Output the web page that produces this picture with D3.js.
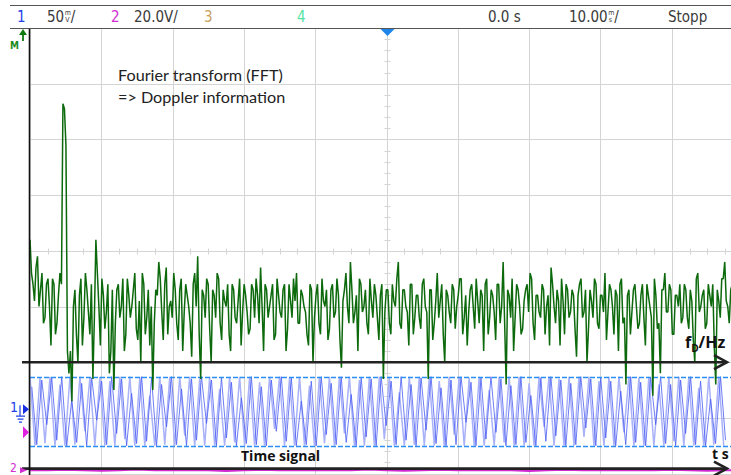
<!DOCTYPE html>
<html><head><meta charset="utf-8">
<script src="https://cdn.jsdelivr.net/npm/d3@7"></script>
<style>
html,body{margin:0;padding:0;background:#fff;overflow:hidden}
svg{display:block}
.hdr{font-family:"DejaVu Sans Condensed","DejaVu Sans",sans-serif;font-size:15px;fill:#3a3a3a}
.tiny{font-family:"DejaVu Sans Condensed","DejaVu Sans",sans-serif;font-size:7px;fill:#3a3a3a}
.note{font-family:Lato,"Open Sans",sans-serif;font-size:15px;fill:#222}
.lbl{font-family:"Open Sans",sans-serif;font-weight:bold;font-size:14px;fill:#111}
</style></head><body>
<svg id="scope" width="731" height="475"></svg>
<script>
// ---------------- data ----------------
const channelLabels = ["1", "2", "3", "4"];
const channelColors = ["#2140e6", "#d02ed0", "#c9a25e", "#55e3a6"];
const ch1Scale = { num: "50", unitTop: "m", unitBottom: "V" };   // 50 mV/div
const ch2Scale = "20.0V/";
const triggerTime = "0.0 s";
const timeBase = { num: "10.00", unitTop: "m", unitBottom: "s" }; // 10 ms/div
const runState = "Stopp";
const notes = ["Fourier transform (FFT)", "=> Doppler information"];

const TIME_DIV_MS = 10, TIME_SPAN = [-50, 50];
const CH1_MV_DIV = 50, CH1_OFFSET_DIV = -2.88;
const CH2_V_DIV = 20, CH2_OFFSET_DIV = -3.94;
const FFT_SPAN_HZ = [0, 2500], FFT_BIN_HZ = 10.5;
const DB_SPAN = [-80, 0];

// FFT magnitude, dB, even bins
const fftDbEven = [
  -38,-46,-43,-50,-44,-52,-45,-57,-46,-53,-44,-13.6,-21,-62,-67,-47,-60,-45,-52,-47,
  -55,-63,-38,-50,-45,-54,-46,-58,-65,-47,-52,-45,-55,-48,-50,-44,-56,-60,-46,-52,
  -57,-65,-47,-42,-51,-46,-55,-49,-44,-53,-47,-58,-46,-50,-59,-44,-41,-63,-48,-45,
  -54,-47,-52,-45,-56,-49,-46,-58,-47,-53,-45,-51,-48,-55,-46,-52,-48,-43,-58,-47,
  -50,-46,-55,-48,-52,-46,-54,-49,-45,-44,-53,-48,-51,-57,-47,-52,-46,-55,-49,-47,
  -54,-46,-51,-48,-61,-47,-50,-42,-53,-48,-45,-51,-47,-55,-49,-46,-52,-48,-63,-47,
  -53,-46,-50,-42,-54,-47,-51,-46,-55,-48,-52,-46,-50,-63,-47,-53,-44,-49,-55,-47,
  -51,-46,-54,-48,-45,-52,-57,-47,-50,-45,-53,-48,-46,-55,-47,-51,-46,-53,-42,-64,
  -48,-45,-52,-47,-55,-49,-46,-44,-53,-48,-51,-46,-55,-48,-43,-50,-47,-57,-49,-46,
  -52,-47,-54,-48,-45,-51,-60,-47,-52,-46,-54,-48,-44,-51,-47,-55,-48,-46,-53,-64,
  -47,-51,-46,-54,-48,-52,-46,-50,-66,-48,-53,-47,-44,-51,-47,-55,-48,-46,-52,-47,
  -54,-49,-60,-44,-50,-47,-53,-48,-46,-64,-49,-45,-42,-50,-47
];
// FFT magnitude, dB, odd bins
const fftDbOdd = [
  -44,-49,-41,-47,-53,-46,-50,-45,-55,-48,-46,-14.5,-58,-58,-50,-55,-48,-57,-44,-51,
  -46,-52,-44,-57,-48,-51,-62,-47,-53,-46,-50,-58,-45,-52,-47,-54,-49,-44,-55,-47,
  -50,-53,-48,-45,-56,-43,-50,-52,-47,-56,-45,-51,-48,-53,-46,-50,-55,-47,-52,-46,
  -60,-48,-44,-53,-47,-50,-55,-46,-52,-49,-57,-46,-51,-54,-47,-45,-53,-50,-46,-52,
  -48,-56,-45,-51,-47,-58,-46,-52,-49,-53,-47,-50,-55,-46,-60,-48,-53,-45,-50,-56,
  -47,-52,-45,-56,-49,-44,-53,-47,-51,-58,-46,-50,-53,-45,-52,-48,-56,-46,-51,-47,
  -55,-49,-45,-53,-47,-50,-57,-46,-52,-48,-54,-45,-51,-47,-56,-49,-52,-46,-60,-48,
  -53,-47,-50,-45,-55,-48,-51,-46,-54,-49,-47,-58,-45,-52,-48,-56,-46,-50,-53,-47,
  -52,-58,-46,-50,-54,-47,-51,-45,-56,-48,-52,-47,-50,-57,-46,-53,-49,-45,-55,-47,
  -51,-48,-59,-46,-52,-47,-54,-49,-45,-53,-48,-51,-56,-46,-50,-47,-58,-45,-52,-48,
  -55,-47,-50,-53,-46,-57,-48,-52,-45,-54,-62,-47,-51,-46,-55,-48,-50,-53,-46,-52,
  -47,-56,-45,-51,-48,-54,-46,-50,-57,-47,-52,-45,-49,-53,-46
];

// channel 1 time signal, mV, one sample every 0.7 ms (two acquisitions)
const CH1_DT_MS = 0.7, CH1_B_SHIFT_MS = 0.25;
const ch1mV = [
  31,-31,30,-29,31,-31,24,-31,31,-30,31,-18,30,-31,31,-31,27,-31,31,-25,
  31,-31,30,-31,14,-31,31,-30,31,-31,31,-22,31,-31,29,-31,31,-31,20,-31,
  31,-28,31,-31,31,-31,26,-31,31,-16,31,-31,30,-31,31,-31,23,-31,31,-29,
  31,-31,31,-20,31,-31,28,-31,31,-31,31,-25,31,-31,17,-31,31,-30,31,-31,
  31,-31,27,-31,31,-21,31,-31,30,-31,31,-31,19,-31,31,-28,31,-31,31,-31,
  25,-31,31,-14,31,-31,29,-31,31,-31,31,-23,31,-31,27,-31,31,-31,31,-19,
  31,-31,30,-31,31,-31,24,-31,31,-27,31,-31,31,-31,21,-31,31,-30,31,-31
];
const ch1mVb = [
  22,-30,28,-12,30,-26,31,-31,10,-28,25,-31,30,-8,27,-30,31,-20,29,-31,
  16,-29,31,-27,30,-31,24,-14,31,-30,20,-31,29,-26,31,-11,28,-31,30,-24,
  26,-31,12,-29,31,-30,22,-31,28,-18,31,-27,30,-31,9,-30,27,-31,31,-21,
  25,-30,31,-28,15,-31,30,-23,29,-31,31,-13,27,-30,31,-26,24,-31,30,-17,
  31,-29,21,-31,28,-30,31,-10,26,-31,30,-25,31,-19,29,-31,23,-30,31,-28,
  14,-31,30,-27,31,-22,28,-31,25,-30,31,-15,29,-31,30,-24,27,-31,18,-30,
  31,-28,26,-31,30,-12,31,-29,24,-31,28,-20,31,-30,27,-31,11,-29,31,-26
];

// channel 2, V, one sample every 2.5 ms
const CH2_DT_MS = 2.5;
const ch2V = [0,0,0.2,0,-0.1,0,0.3,0,0,0.1,0,-0.2,0,0.2,0,0,0.1,0,0,0.3,
              0,-0.1,0,0.2,0,0,0.1,0,-0.2,0,0.2,0,0,0.1,0,0,0.2,0,-0.1,0,0];

// ---------------- layout ----------------
const svg = d3.select("#scope");
const X0 = 30, X1 = 743, Y0 = 28, Y1 = 28 + 8 * 55.7;

const xT = d3.scaleLinear().domain(TIME_SPAN).range([X0, X1]);
const xF = d3.scaleLinear().domain(FFT_SPAN_HZ).range([X0, X1]);
const yDb = d3.scaleLinear().domain(DB_SPAN).range([Y1, Y0]);
const yCh1 = d3.scaleLinear()
  .domain([(-4 - CH1_OFFSET_DIV) * CH1_MV_DIV, (4 - CH1_OFFSET_DIV) * CH1_MV_DIV]).range([Y1, Y0]);
const yCh2 = d3.scaleLinear()
  .domain([(-4 - CH2_OFFSET_DIV) * CH2_V_DIV, (4 - CH2_OFFSET_DIV) * CH2_V_DIV]).range([Y1, Y0]);

svg.append("clipPath").attr("id", "plot-clip")
  .append("rect").attr("x", X0).attr("y", Y0 + 1).attr("width", 731 - X0).attr("height", 475 - Y0);

// grid
const grid = svg.append("g").attr("stroke", "#d4d4d4").attr("stroke-width", 1);
d3.range(TIME_SPAN[0], TIME_SPAN[1] + 1, TIME_DIV_MS).forEach(t => {
  const x = Math.round(xT(t)) + 0.5;
  grid.append("line").attr("x1", x).attr("x2", x).attr("y1", Y0).attr("y2", 475);
});
d3.range(DB_SPAN[0], DB_SPAN[1] + 1, 10).forEach(d => {
  const y = Math.round(yDb(d)) + 0.5;
  grid.append("line").attr("x1", X0).attr("x2", 731).attr("y1", y).attr("y2", y);
});
// centre ticks
const cy = Math.round(yDb(-40)) + 0.5, cx = Math.round(xT(0)) + 0.5;
d3.range(TIME_SPAN[0], TIME_SPAN[1] + 0.1, TIME_DIV_MS / 4).forEach(t => {
  const x = Math.round(xT(t)) + 0.5;
  grid.append("line").attr("x1", x).attr("x2", x).attr("y1", cy - 3).attr("y2", cy + 3);
});
d3.range(DB_SPAN[0], DB_SPAN[1] + 0.1, 2).forEach(d => {
  const y = Math.round(yDb(d)) + 0.5;
  grid.append("line").attr("x1", cx - 3).attr("x2", cx + 3).attr("y1", y).attr("y2", y);
});

const plot = svg.append("g").attr("clip-path", "url(#plot-clip)");

// channel 2
plot.append("path")
  .attr("fill", "none").attr("stroke", "#d22ad2").attr("stroke-width", 2.2)
  .attr("d", d3.line().x((d, i) => xT(TIME_SPAN[0] + i * CH2_DT_MS)).y(d => yCh2(d))(ch2V));

// channel 1
const ch1Line = d3.line().x((d, i) => xT(TIME_SPAN[0] + i * CH1_DT_MS)).y(d => yCh1(d));
const ch1LineB = d3.line().x((d, i) => xT(TIME_SPAN[0] + CH1_B_SHIFT_MS + i * CH1_DT_MS)).y(d => yCh1(d));
plot.append("path").attr("fill", "none").attr("stroke", "#a9b1f8").attr("stroke-width", 1.5)
  .attr("d", ch1Line(ch1mV));
plot.append("path").attr("fill", "none").attr("stroke", "#4a5df2").attr("stroke-width", 1)
  .attr("opacity", 0.8).attr("d", ch1LineB(ch1mVb));
[d3.max(ch1mV), d3.min(ch1mV)].forEach(v => {
  const y = Math.round(yCh1(v)) + 0.5;
  plot.append("line").attr("x1", X0).attr("x2", 731).attr("y1", y).attr("y2", y)
    .attr("stroke", "#2a8ef2").attr("stroke-width", 1.6).attr("stroke-dasharray", "5,2");
});

// FFT trace: even and odd bins interleaved
const fftPts = [];
fftDbEven.forEach((v, i) => {
  fftPts.push({ f: i * FFT_BIN_HZ, db: v });
  if (i < fftDbOdd.length) fftPts.push({ f: (i + 0.5) * FFT_BIN_HZ, db: fftDbOdd[i] });
});
plot.append("path")
  .attr("fill", "none").attr("stroke", "#0c690c").attr("stroke-width", 1.5)
  .attr("stroke-linejoin", "bevel")
  .attr("d", d3.line().x(d => xF(d.f)).y(d => yDb(d.db))(fftPts));

// axis overlays (black arrows)
function arrow(y) {
  svg.append("line").attr("x1", 22).attr("x2", 727).attr("y1", y).attr("y2", y)
    .attr("stroke", "#222").attr("stroke-width", 2.6);
  svg.append("path").attr("d", `M714,${y - 7}L727,${y}L714,${y + 7}`)
    .attr("fill", "none").attr("stroke", "#222").attr("stroke-width", 2.6);
}
arrow(yDb(-60));
arrow(yDb(-79.1));
svg.append("line").attr("x1", 29.5).attr("x2", 29.5).attr("y1", Y0).attr("y2", 475)
  .attr("stroke", "#111").attr("stroke-width", 1.6);

// header
svg.append("line").attr("x1", 10).attr("x2", 731).attr("y1", 5.5).attr("y2", 5.5)
  .attr("stroke", "#555").attr("stroke-width", 1.2);
svg.append("line").attr("x1", 10).attr("x2", 731).attr("y1", 28.5).attr("y2", 28.5)
  .attr("stroke", "#555").attr("stroke-width", 1.2);
const hx = [17, 111, 204, 297];
channelLabels.forEach((c, i) => {
  svg.append("text").attr("class", "hdr").attr("x", hx[i]).attr("y", 22)
    .style("fill", channelColors[i]).text(c);
});
function stacked(x, s) {
  const t = svg.append("text").attr("class", "hdr").attr("x", x).attr("y", 22).text(s.num);
  const w = t.node().getComputedTextLength() + 0.5;
  svg.append("text").attr("class", "tiny").attr("x", x + w).attr("y", 15).text(s.unitTop);
  svg.append("text").attr("class", "tiny").attr("x", x + w + 0.5).attr("y", 22).text(s.unitBottom);
  svg.append("text").attr("class", "hdr").attr("x", x + w + 6).attr("y", 22).text("/");
}
stacked(47, ch1Scale);
svg.append("text").attr("class", "hdr").attr("x", 134).attr("y", 22).text(ch2Scale);
svg.append("text").attr("class", "hdr").attr("x", 488).attr("y", 22).text(triggerTime);
stacked(569, timeBase);
svg.append("text").attr("class", "hdr").attr("x", 668).attr("y", 22).text(runState);

// trigger position marker
svg.append("path").attr("d", `M${cx - 7},29L${cx + 7},29L${cx},36Z`).attr("fill", "#1e86ea");

// math / channel markers on the left
svg.append("path").attr("d", "M23,29L19,35H27Z").attr("fill", "#0f7a0f");
svg.append("line").attr("x1", 23).attr("x2", 23).attr("y1", 33).attr("y2", 41)
  .attr("stroke", "#0f7a0f").attr("stroke-width", 1.8);
svg.append("text").attr("x", 10).attr("y", 49).attr("fill", "#1b8a1b")
  .style("font", "bold 10px 'DejaVu Sans Condensed', sans-serif").text("M");

const g1 = yCh1(0);
svg.append("text").attr("x", 10).attr("y", g1 + 1).attr("fill", channelColors[0])
  .style("font", "14px 'DejaVu Sans Condensed', sans-serif").text("1");
svg.append("path").attr("d", `M23,${g1 - 7}L29,${g1 - 2}L23,${g1 + 3}Z`).attr("fill", "#1a30e0");
svg.append("path").attr("d", `M20,${g1 - 6}V${g1 + 5}M16,${g1 + 5}H25M17.5,${g1 + 8}H23.5M19,${g1 + 11}H22`)
  .attr("fill", "none").attr("stroke", "#2140e6").attr("stroke-width", 1.2);
svg.append("path").attr("d", `M23,${g1 + 15}L29,${g1 + 21}L23,${g1 + 27}Z`).attr("fill", "#e020e0");
const g2 = yCh2(0);
svg.append("text").attr("x", 10).attr("y", g2 + 2).attr("fill", channelColors[1])
  .style("font", "12px 'DejaVu Sans Condensed', sans-serif").text("2");
svg.append("path").attr("d", `M20,${g2 - 3}L27,${g2}L20,${g2 + 3}Z`).attr("fill", "#d02ed0");

// annotations: fit the first line to its width on screen
const n1 = svg.append("text").attr("class", "note").attr("x", 118).attr("y", 81).text(notes[0]);
const noteSize = 15 * 165 / n1.node().getComputedTextLength();
n1.style("font-size", noteSize + "px");
svg.append("text").attr("class", "note").attr("x", 118).attr("y", 103)
  .style("font-size", noteSize + "px").text(notes[1]);
const fl = svg.append("text").attr("class", "lbl").attr("x", 685).attr("y", 348).style("font-size", "16px");
fl.append("tspan").text("f");
fl.append("tspan").attr("dy", 4).style("font-size", "10px").text("D");
fl.append("tspan").attr("dy", -4).text("/Hz");
svg.append("text").attr("class", "lbl").attr("x", 241).attr("y", 461).text("Time signal");
svg.append("text").attr("class", "lbl").attr("x", 712).attr("y", 459).text("t s");
</script>
</body></html>
